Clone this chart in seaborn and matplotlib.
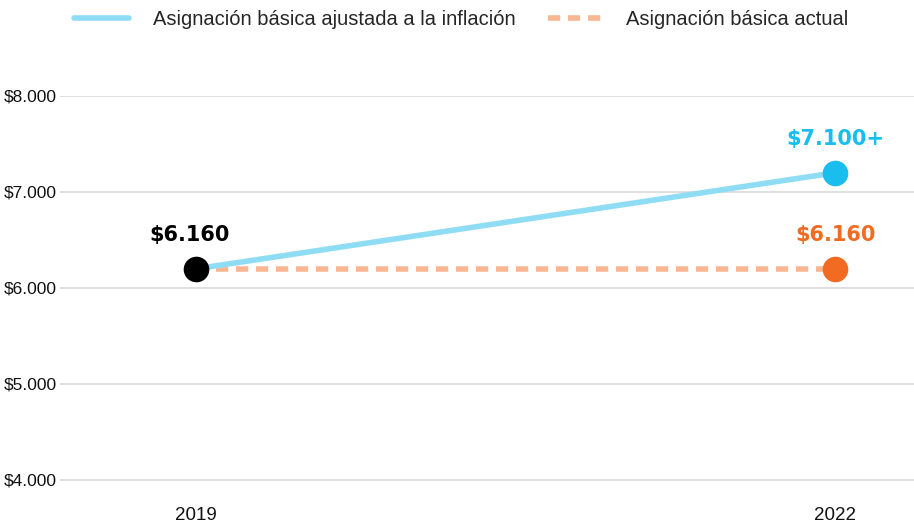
import matplotlib.pyplot as plt
import seaborn as sns
import pandas as pd
from matplotlib.lines import Line2D

years = [2019, 2022]
ajustada = [6200, 7200]
actual = [6200, 6200]
labels_ajustada = ["$6.160", "$7.100+"]
labels_actual = ["", "$6.160"]
yticks = [4000, 5000, 6000, 7000, 8000]
ytick_labels = ["$4.000", "$5.000", "$6.000", "$7.000", "$8.000"]

blue_line = "#8fdcf5"
blue_dot = "#19bdee"
orange_line = "#f9b693"
orange_dot = "#f26b22"
dash = (0, (2.2, 1.4))

df = pd.DataFrame({"year": years, "ajustada": ajustada, "actual": actual})

sns.set_style("white")
plt.rcParams['font.family'] = ['Liberation Sans', 'DejaVu Sans']

fig = plt.figure(figsize=(9.14, 5.25), dpi=100)
ax = fig.add_axes([0.0656, 0.0766, 0.9344, 0.7406])

sns.lineplot(data=df, x="year", y="actual", ax=ax, color=orange_line,
             linewidth=4, linestyle=dash, zorder=2)
sns.lineplot(data=df, x="year", y="ajustada", ax=ax, color=blue_line,
             linewidth=4, zorder=3)

# dots
ax.scatter([years[1]], [actual[1]], s=340, color=orange_dot, zorder=4, linewidths=0)
ax.scatter([years[1]], [ajustada[1]], s=340, color=blue_dot, zorder=4, linewidths=0)
ax.scatter([years[0]], [ajustada[0]], s=340, color="black", zorder=5, linewidths=0)

lbl_font = dict(family=['DejaVu Sans'], fontweight='bold', fontsize=15,
                ha='center', va='bottom')
ax.text(years[0] - 0.03, ajustada[0] + 250, labels_ajustada[0], color="black", **lbl_font)
ax.text(years[1], ajustada[1] + 250, labels_ajustada[1], color=blue_dot, **lbl_font)
ax.text(years[1], actual[1] + 250, labels_actual[1], color=orange_dot, **lbl_font)

ax.set_xlim(2018.36, 2022.37)
ax.set_ylim(3950, 8000)
ax.set_yticks(yticks)
ax.set_yticklabels(ytick_labels)
ax.set_xticks(years)
ax.set_xticklabels([str(y) for y in years])
ax.grid(axis='y', color="#d9d9d9", linewidth=1.2)
ax.set_axisbelow(True)
for s in ax.spines.values():
    s.set_visible(False)
ax.tick_params(axis='y', length=0, labelsize=12.5, pad=2, labelcolor="#111111")
ax.tick_params(axis='x', length=8, width=1.5, color="#d9d9d9", labelsize=13.5,
               pad=8, labelcolor="#111111", direction='out')
ax.set_xlabel("")
ax.set_ylabel("")

handles = [Line2D([], [], color=blue_line, linewidth=4),
           Line2D([], [], color=orange_line, linewidth=4, linestyle=dash)]
fig.legend(handles, ["Asignación básica ajustada a la inflación", "Asignación básica actual"],
           loc='upper center', bbox_to_anchor=(0.505, 1.015), ncol=2, frameon=False,
           fontsize=14.5, handlelength=2.7, columnspacing=1.6, handletextpad=1.2)

fig.savefig("out.png", dpi=100)
